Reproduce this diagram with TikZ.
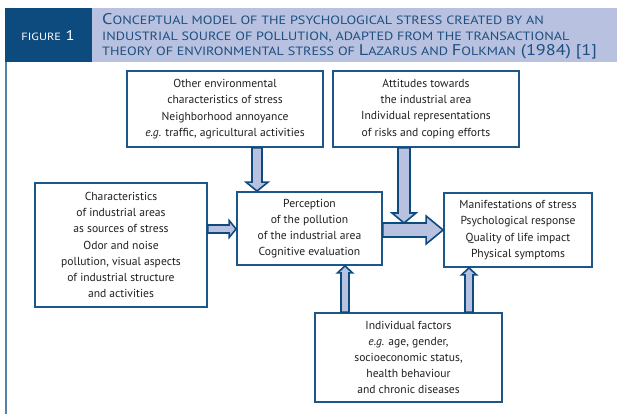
\documentclass[tikz,border=0pt]{standalone}
\usepackage{fontspec}
\setmainfont{PT Sans}
\newfontfamily\boxfont{PT Sans}
\newfontfamily\titlefont[FakeStretch=1.18]{PT Sans}
\usetikzlibrary{positioning, calc}

\definecolor{hddark}{HTML}{0D4A7E}
\definecolor{hdlight}{HTML}{B8C1DF}
\definecolor{boxline}{HTML}{1C568A}
\definecolor{titletext}{HTML}{1D4F80}
\definecolor{bodytext}{HTML}{231F20}

\newcommand{\smc}[1]{{\fontsize{12}{15}\selectfont #1}}

\tikzset{
  box/.style = {rectangle, draw=boxline, line width=1.8pt, fill=white,
    align=center, inner sep=0pt, text=bodytext,
    font=\boxfont\fontsize{11.6}{16.2}\selectfont},
  fatarrow/.style = {draw=hddark, fill=hdlight, line width=1.6pt, line join=miter},
  leftrule/.style = {draw=hddark!70!white, line width=1.5pt},
}

% block arrow: from, to, shaft half width, head half width, head length
\newcommand{\fatarrow}[5]{%
  \path (#1) coordinate (fa-tail) (#2) coordinate (fa-tip);
  \path ($(fa-tip)!#5!(fa-tail)$) coordinate (fa-head);
  \draw[fatarrow] ($(fa-tail)!#3!90:(fa-tip)$) -- ($(fa-head)!#3!90:(fa-tip)$)
    -- ($(fa-head)!#4!90:(fa-tip)$) -- (fa-tip) -- ($(fa-head)!#4!-90:(fa-tip)$)
    -- ($(fa-head)!#3!-90:(fa-tip)$) -- ($(fa-tail)!#3!-90:(fa-tip)$) -- cycle;}

\begin{document}
\begin{tikzpicture}[x=1pt, y=-1pt]
  \useasboundingbox (0,0) rectangle (617,414);

  % Header
  \fill[hdlight] (5,8) rectangle (617,62);
  \fill[hddark] (5,8) rectangle (92,62);
  \draw[leftrule] (6,62) -- (6,414);
  \node[text=white, font=\titlefont\fontsize{14}{15}\selectfont] (fig) at (48,36)
    {{\fontsize{10.5}{15}\selectfont FIGURE} 1};
  \node[anchor=west, align=left, text=titletext, inner sep=0pt,
    font=\titlefont\fontsize{15.5}{15.5}\selectfont] (title) at (102,36.5)
    {C\smc{ONCEPTUAL MODEL OF THE PSYCHOLOGICAL STRESS CREATED BY AN}\\
     \smc{INDUSTRIAL SOURCE OF POLLUTION, ADAPTED FROM THE TRANSACTIONAL}\\
     \smc{THEORY OF ENVIRONMENTAL STRESS OF }L\smc{AZARUS AND }F\smc{OLKMAN} (1984) [1]};

  % Boxes
  \node[box, minimum width=196, minimum height=76] (other) at (225,109)
    {Other environmental\\characteristics of stress\\Neighborhood annoyance\\
     \textit{e.g.} traffic, agricultural activities};
  \node[box, minimum width=186, minimum height=76] (attit) at (426,109)
    {Attitudes towards\\the industrial area\\Individual representations\\
     of risks and coping efforts};
  \node[box, minimum width=172, minimum height=124] (charac) at (121,245)
    {Characteristics\\of industrial areas\\as sources of stress\\Odor and noise\\
     pollution, visual aspects\\of industrial structure\\and activities};
  \node[box, minimum width=145, minimum height=73] (perc) at (309.5,228.5)
    {Perception\\of the pollution\\of the industrial area\\Cognitive evaluation};
  \node[box, minimum width=148, minimum height=74] (manif) at (518,230)
    {Manifestations of stress\\Psychological response\\Quality of life impact\\
     Physical symptoms};
  \node[box, minimum width=187, minimum height=89] (indiv) at (408.5,357.5)
    {Individual factors\\\textit{e.g.} age, gender,\\socioeconomic status,\\
     health behaviour\\and chronic diseases};

  % Arrows
  \coordinate (o1) at ($(other.south)+(32,0)$);
  \fatarrow{o1}{o1 |- perc.north}{5pt}{11pt}{9pt}
  \coordinate (c1) at ($(charac.east)+(0,-16)$);
  \fatarrow{c1}{c1 -| perc.west}{4pt}{8.5pt}{7pt}
  \coordinate (p1) at ($(perc.east)+(0,1.5)$);
  \fatarrow{p1}{p1 -| manif.west}{7pt}{14pt}{17pt}
  \coordinate (a1) at ($(attit.south)+(-22,0)$);
  \coordinate (a2) at ($(a1 |- p1)+(0,-7)$);
  \fatarrow{a1}{a2}{6pt}{12pt}{10pt}
  \coordinate (i1) at ($(indiv.north)+(-63.5,0)$);
  \fatarrow{i1}{i1 |- perc.south}{4pt}{7.5pt}{7pt}
  \coordinate (i2) at ($(indiv.north)+(60.5,0)$);
  \fatarrow{i2}{i2 |- manif.south}{4pt}{7.5pt}{7pt}

\end{tikzpicture}
\end{document}
